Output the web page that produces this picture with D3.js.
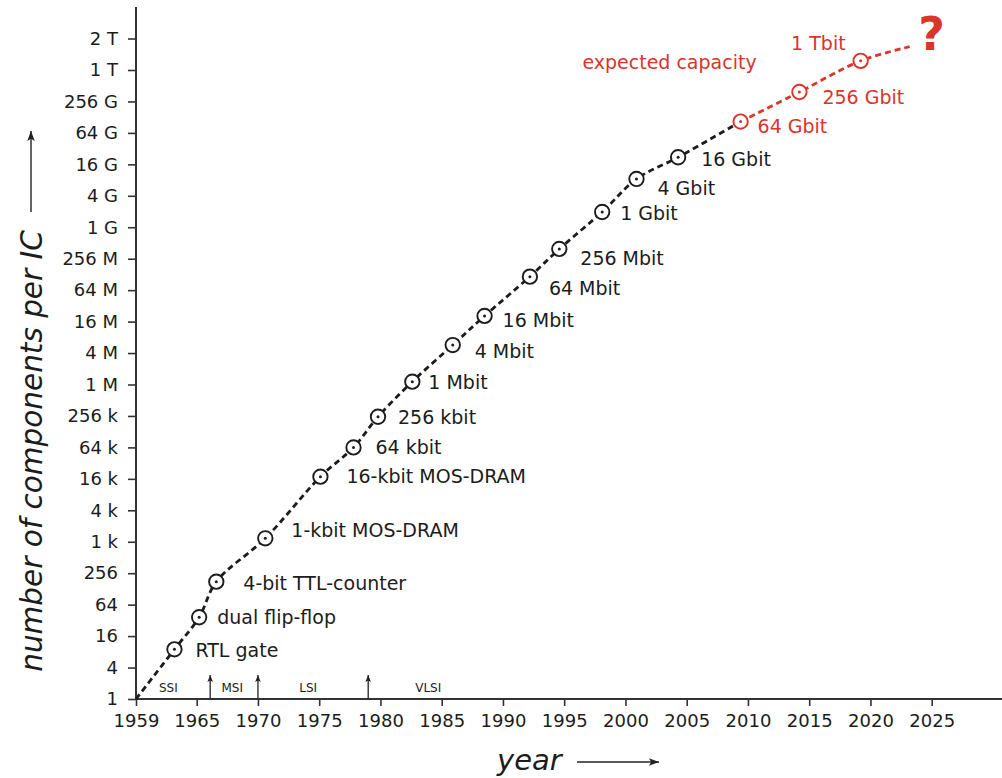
<!DOCTYPE html>
<html>
<head>
<meta charset="utf-8">
<script src="https://cdn.jsdelivr.net/npm/d3@7"></script>
<style>
  html, body { margin: 0; padding: 0; background: #fff; }
  svg { display: block; }
  text { font-family: "DejaVu Sans", Verdana, sans-serif; }
</style>
</head>
<body>
<svg id="chart" width="1002" height="778"></svg>
<script>
// ---------------- data ----------------
const xTickYears = [1959, 1965, 1970, 1975, 1980, 1985, 1990, 1995, 2000, 2005, 2010, 2015, 2020, 2025];
const yTickLog2 = [0, 2, 4, 6, 8, 10, 12, 14, 16, 18, 20, 22, 24, 26, 28, 30, 32, 34, 36, 38, 40, 41];
const yTickLabels = ["1", "4", "16", "64", "256", "1 k", "4 k", "16 k", "64 k", "256 k", "1 M", "4 M", "16 M", "64 M", "256 M", "1 G", "4 G", "16 G", "64 G", "256 G", "1 T", "2 T"];

// milestones: year, log2(number of components), label, expected (future) or not
const milestoneYears = [1962.8, 1965.2, 1966.6, 1970.6, 1975.1, 1977.8, 1979.8, 1982.6, 1985.9, 1988.5, 1992.2, 1994.6, 1998.1, 2000.9, 2004.3, 2009.4, 2014.2, 2019.2];
const milestoneLog2 = [3.16, 5.2, 7.46, 10.22, 14.14, 16.0, 17.95, 20.18, 22.51, 24.36, 26.86, 28.62, 30.97, 33.07, 34.45, 36.72, 38.6, 40.29];
const milestoneLabels = ["RTL gate", "dual flip-flop", "4-bit TTL-counter", "1-kbit MOS-DRAM", "16-kbit MOS-DRAM", "64 kbit", "256 kbit", "1 Mbit", "4 Mbit", "16 Mbit", "64 Mbit", "256 Mbit", "1 Gbit", "4 Gbit", "16 Gbit", "64 Gbit", "256 Gbit", "1 Tbit"];
const milestoneExpected = [false, false, false, false, false, false, false, false, false, false, false, false, false, false, false, true, true, true];

// trend line start and extrapolated end
const trendStart = { year: 1959, log2: 0 };
const trendEnd = { year: 2023.2, log2: 40.74 };

// integration eras
const eraLabels = ["SSI", "MSI", "LSI", "VLSI"];
const eraCenters = [1962.2, 1967.9, 1974.1, 1983.9];
const eraBoundaries = [1966.1, 1970.0, 1979.0];

// ---------------- layout (label nudges, px) ----------------
const labelNudge = [
  [21, 1], [18, 0], [27, 1], [26, -8], [26, 0], [22, 0], [20, 0], [16, 0], [22, 6],
  [18, 4], [19, 12], [21, 9], [18, 1], [21, 9], [23, 2], [17, 5], [23, 5], [-15, -18]
];

const BLACK = "#1c1c1c";
const RED = "#d8352b";

const svg = d3.select("#chart");

const x = d3.scaleLinear().domain([1959, 1965, 2025]).range([136, 196.7, 931.7]);
const y = d3.scaleLinear().domain([0, 40, 41]).range([699, 70, 38.5]);

// ---------------- axes ----------------
const xAxis = d3.axisBottom(x).tickValues(xTickYears).tickFormat(d3.format("d"))
  .tickSize(7).tickSizeOuter(0).tickPadding(8);
const gx = svg.append("g").attr("transform", `translate(0,${y(0)})`).call(xAxis);
gx.select(".domain").remove();
gx.selectAll(".tick line").attr("stroke", "#333").attr("stroke-width", 1.6);
gx.selectAll(".tick text").attr("font-size", 18).attr("fill", BLACK)
  .style("font-family", "'DejaVu Sans', Verdana, sans-serif");

const yAxis = d3.axisLeft(y).tickValues(yTickLog2).tickFormat((d, i) => yTickLabels[i])
  .tickSize(8).tickSizeOuter(0).tickPadding(10);
const gy = svg.append("g").attr("transform", `translate(${x(1959)},0)`).call(yAxis);
gy.select(".domain").remove();
gy.selectAll(".tick line").attr("stroke", "#333").attr("stroke-width", 1.6);
gy.selectAll(".tick text").attr("font-size", 18).attr("fill", BLACK)
  .style("font-family", "'DejaVu Sans', Verdana, sans-serif");

// axis lines
svg.append("line").attr("x1", x(1959)).attr("x2", 1002).attr("y1", y(0)).attr("y2", y(0))
  .attr("stroke", "#333").attr("stroke-width", 2);
svg.append("line").attr("x1", x(1959)).attr("x2", x(1959)).attr("y1", y(0)).attr("y2", 7)
  .attr("stroke", "#333").attr("stroke-width", 2);

// arrow marker
const defs = svg.append("defs");
defs.append("marker").attr("id", "arr").attr("viewBox", "0 0 10 10")
  .attr("refX", 10).attr("refY", 5).attr("markerWidth", 10).attr("markerHeight", 10)
  .attr("markerUnits", "userSpaceOnUse").attr("orient", "auto")
  .append("path").attr("d", "M0,1.2 L10,5 L0,8.8 L2.2,5 Z").attr("fill", "#222");
defs.append("marker").attr("id", "arrSmall").attr("viewBox", "0 0 10 10")
  .attr("refX", 10).attr("refY", 5).attr("markerWidth", 7).attr("markerHeight", 7)
  .attr("markerUnits", "userSpaceOnUse").attr("orient", "auto")
  .append("path").attr("d", "M0,1 L10,5 L0,9 L2,5 Z").attr("fill", "#222");

// axis titles
svg.append("text").attr("x", 497).attr("y", 770)
  .attr("font-size", 29).attr("font-style", "italic").attr("fill", BLACK).text("year");
svg.append("line").attr("x1", 577).attr("x2", 659).attr("y1", 762).attr("y2", 762)
  .attr("stroke", "#222").attr("stroke-width", 1.4).attr("marker-end", "url(#arr)");

svg.append("text").attr("transform", "translate(42,451) rotate(-90)")
  .attr("text-anchor", "middle").attr("font-size", 29.5).attr("font-style", "italic")
  .attr("fill", BLACK).text("number of components per IC");
svg.append("line").attr("x1", 31).attr("x2", 31).attr("y1", 212).attr("y2", 131)
  .attr("stroke", "#222").attr("stroke-width", 1.4).attr("marker-end", "url(#arr)");

// ---------------- eras ----------------
eraLabels.forEach((lab, i) => {
  svg.append("text").attr("x", x(eraCenters[i])).attr("y", y(0) - 7)
    .attr("text-anchor", "middle").attr("font-size", 12).attr("fill", BLACK).text(lab);
});
eraBoundaries.forEach(b => {
  svg.append("line").attr("x1", x(b)).attr("x2", x(b)).attr("y1", y(0)).attr("y2", y(0) - 24)
    .attr("stroke", "#222").attr("stroke-width", 1.3).attr("marker-end", "url(#arrSmall)");
});

// ---------------- trend curve ----------------
const pts = milestoneYears.map((yr, i) => ({ year: yr, log2: milestoneLog2[i], label: milestoneLabels[i], expected: milestoneExpected[i] }));
const firstExpected = pts.findIndex(p => p.expected);
const blackPts = [trendStart].concat(pts.slice(0, firstExpected + 1));
const redPts = pts.slice(firstExpected).concat([trendEnd]);

const line = d3.line().x(d => x(d.year)).y(d => y(d.log2)).curve(d3.curveCatmullRom.alpha(0.5));

svg.append("path").attr("d", line(blackPts)).attr("fill", "none")
  .attr("stroke", BLACK).attr("stroke-width", 2.8).attr("stroke-dasharray", "6,4");
svg.append("path").attr("d", line(redPts)).attr("fill", "none")
  .attr("stroke", RED).attr("stroke-width", 2.8).attr("stroke-dasharray", "6,4");

// ---------------- markers ----------------
const mk = svg.append("g").selectAll("g").data(pts).join("g")
  .attr("transform", d => `translate(${x(d.year)},${y(d.log2)})`);
mk.append("circle").attr("r", 7.2).attr("fill", "#fff")
  .attr("stroke", d => d.expected ? RED : BLACK).attr("stroke-width", 1.9);
mk.append("circle").attr("r", 1.5).attr("fill", d => d.expected ? RED : BLACK);

// labels
svg.append("g").selectAll("text").data(pts).join("text")
  .attr("x", (d, i) => x(d.year) + labelNudge[i][0])
  .attr("y", (d, i) => y(d.log2) + labelNudge[i][1])
  .attr("dy", "0.36em")
  .attr("text-anchor", (d, i) => labelNudge[i][0] < 0 ? "end" : "start")
  .attr("font-size", 19)
  .attr("fill", d => d.expected ? RED : BLACK)
  .text(d => d.label);

// annotation
const last = pts[pts.length - 1];
svg.append("text").attr("x", x(last.year) - 104).attr("y", y(last.log2) + 1).attr("dy", "0.36em")
  .attr("text-anchor", "end").attr("font-size", 19).attr("fill", RED).text("expected capacity");
svg.append("text").attr("x", x(2025)).attr("y", 50)
  .attr("text-anchor", "middle").attr("font-size", 46).attr("font-weight", "bold")
  .attr("fill", RED).text("?");
</script>
</body>
</html>
